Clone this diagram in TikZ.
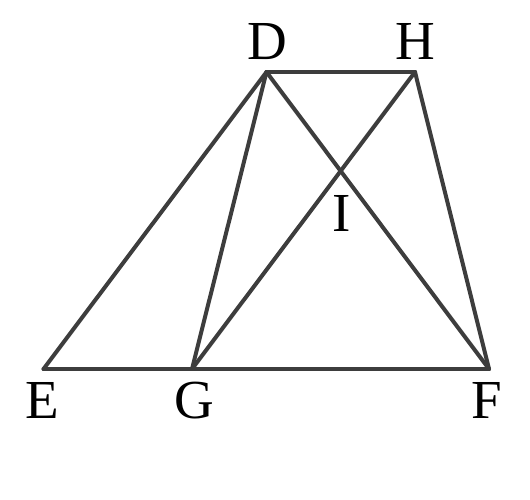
\documentclass[tikz,border=0pt]{standalone}
\usepackage{fontspec}
\setmainfont{Liberation Serif}
\begin{document}
\begin{tikzpicture}[x=1pt,y=-1pt,
  seg/.style={line width=4pt,draw=black!76,line cap=round,line join=round},
  lbl/.style={inner sep=0pt,anchor=base,font=\fontsize{55}{60}\selectfont}]
\useasboundingbox (0,0) rectangle (530,500);
\coordinate (D) at (266.5,72);
\coordinate (H) at (415,72);
\coordinate (E) at (43.5,369);
\coordinate (G) at (192,369);
\coordinate (F) at (489,369);
\draw[seg] (E) -- (F);
\draw[seg] (D) -- (H);
\draw[seg] (E) -- (D);
\draw[seg] (D) -- (G);
\draw[seg] (D) -- (F);
\draw[seg] (G) -- (H);
\draw[seg] (H) -- (F);
\node[lbl] (lD) at (267,60) {D};
\node[lbl] (lH) at (415,60) {H};
\node[lbl] (lE) at (42,418) {E};
\node[lbl] (lG) at (194,418) {G};
\node[lbl] (lF) at (487,418) {F};
\node[lbl] (lI) at (342,231) {I};
\end{tikzpicture}
\end{document}
